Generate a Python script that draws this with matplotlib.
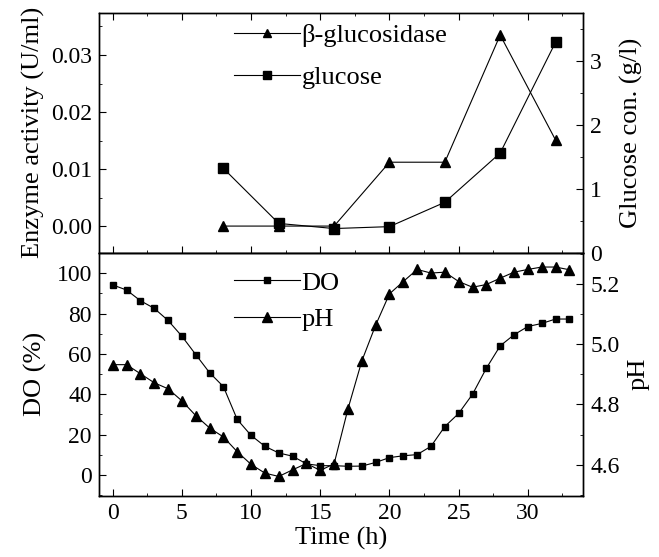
import matplotlib
matplotlib.use("Agg")
import matplotlib.pyplot as plt
from matplotlib.ticker import MultipleLocator

plt.rcParams['font.family'] = ['Liberation Serif', 'DejaVu Serif']
plt.rcParams['font.size'] = 19
plt.rcParams['xtick.labelsize'] = 17
plt.rcParams['ytick.labelsize'] = 17

# top panel: sampled every 4 h
t_top = [8, 12, 16, 20, 24, 28, 32]
enzyme = [0.0, 0.0, 0.0, 0.0112, 0.0112, 0.0335, 0.0151]
glucose = [1.32, 0.46, 0.38, 0.41, 0.79, 1.56, 3.29]

# bottom panel: hourly
t_bot = list(range(34))
do = [94.2, 91.7, 86.4, 82.6, 76.6, 68.8, 59.7, 50.7, 43.8, 27.5,
      19.6, 14.2, 10.9, 9.3, 5.5, 4.6, 4.6, 4.3, 4.4, 6.2,
      8.6, 9.5, 10.1, 14.2, 24.0, 30.5, 40.0, 52.9, 64.0, 69.5,
      73.6, 75.1, 77.3, 77.3]
ph = [4.932, 4.932, 4.902, 4.872, 4.852, 4.812, 4.763, 4.722, 4.692, 4.643,
      4.601, 4.572, 4.561, 4.583, 4.604, 4.581, 4.603, 4.785, 4.944, 5.063,
      5.167, 5.208, 5.248, 5.236, 5.239, 5.208, 5.189, 5.198, 5.219, 5.239,
      5.248, 5.256, 5.256, 5.247]

fig = plt.figure(figsize=(6.59, 5.57), dpi=100)
left, width = 0.150, 0.735
ax1 = fig.add_axes([left, 0.546, width, 0.431])
ax3 = fig.add_axes([left, 0.110, width, 0.436])
ax2 = ax1.twinx()
ax4 = ax3.twinx()

line_kw = dict(color='black', lw=0.8)

# top
h1, = ax1.plot(t_top, enzyme, marker='^', ms=7.5, mfc='black', mec='black', **line_kw)
h2, = ax2.plot(t_top, glucose, marker='s', ms=6.5, mfc='black', mec='black', **line_kw)
ax1.set_xlim(-1, 34)
ax1.set_ylim(-0.0047, 0.0374)
ax2.set_ylim(0, 3.75)
ax1.yaxis.set_major_locator(MultipleLocator(0.01))
ax1.yaxis.set_minor_locator(MultipleLocator(0.005))
ax1.yaxis.set_major_formatter(plt.FormatStrFormatter('%.2f'))
ax2.yaxis.set_major_locator(MultipleLocator(1))
ax2.yaxis.set_minor_locator(MultipleLocator(0.5))
ax1.xaxis.set_major_locator(MultipleLocator(5))
ax1.xaxis.set_minor_locator(MultipleLocator(2.5))
ax1.tick_params(axis='x', labelbottom=False)
ax1.set_ylabel('Enzyme activity (U/ml)', labelpad=4)
ax2.set_ylabel('Glucose con. (g/l)', labelpad=13)
ax1.legend([h1, h2], ['β-glucosidase', 'glucose'], loc='upper left',
           bbox_to_anchor=(0.247, 1.02), frameon=False, handlelength=2.5,
           handletextpad=0.05, labelspacing=0.7, borderaxespad=0.2,
           markerscale=0.8)

# bottom
h3, = ax3.plot(t_bot, do, marker='s', ms=5, mfc='black', mec='black', **line_kw)
h4, = ax4.plot(t_bot, ph, marker='^', ms=7, mfc='black', mec='black', **line_kw)
ax3.set_xlim(-1, 34)
ax3.set_ylim(-10.3, 110.1)
ax4.set_ylim(4.497, 5.303)
ax3.yaxis.set_major_locator(MultipleLocator(20))
ax3.yaxis.set_minor_locator(MultipleLocator(10))
ax4.yaxis.set_major_locator(MultipleLocator(0.2))
ax4.yaxis.set_minor_locator(MultipleLocator(0.1))
ax4.yaxis.set_major_formatter(plt.FormatStrFormatter('%.1f'))
ax3.xaxis.set_major_locator(MultipleLocator(5))
ax3.xaxis.set_minor_locator(MultipleLocator(2.5))
ax3.set_xlabel('Time (h)', labelpad=2)
ax3.set_ylabel('DO (%)', labelpad=7)
ax4.set_ylabel('pH', labelpad=6)
ax3.legend([h3, h4], ['DO', 'pH'], loc='upper left',
           bbox_to_anchor=(0.246, 0.99), frameon=False, handlelength=2.5,
           handletextpad=0.05, labelspacing=0.5, borderaxespad=0.2)

for ax in (ax1, ax2, ax3, ax4):
    ax.tick_params(which='both', direction='in')
    ax.tick_params(which='major', length=5, pad=5)
    ax.tick_params(which='minor', length=2.5)
    for s in ax.spines.values():
        s.set_linewidth(1.0)
ax1.tick_params(axis='x', which='both', top=True)
ax3.tick_params(axis='x', which='both', top=False)

fig.savefig('out.png', dpi=100)
